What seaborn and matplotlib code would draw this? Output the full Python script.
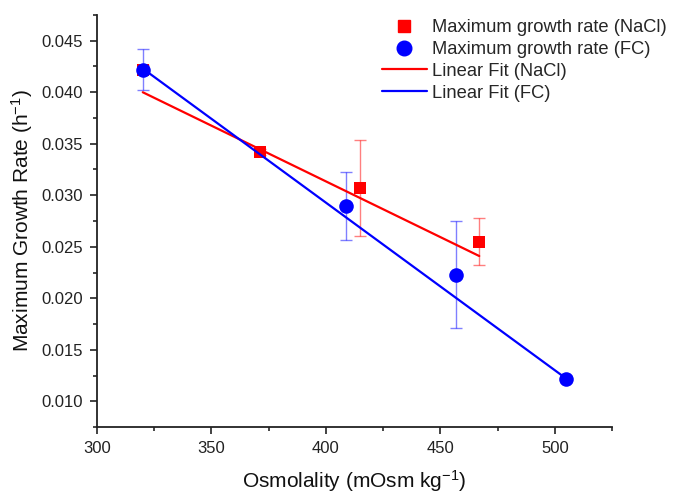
import matplotlib
matplotlib.use("Agg")
import matplotlib.pyplot as plt
from matplotlib.ticker import MultipleLocator, FormatStrFormatter
from matplotlib.lines import Line2D
import seaborn as sns
import pandas as pd

# ---- data ----
nacl_x = [320, 371, 415, 467]
nacl_y = [0.0422, 0.0342, 0.0307, 0.0255]
nacl_err = [0.0004, 0.0003, 0.0047, 0.0023]

fc_x = [320, 409, 457, 505]
fc_y = [0.0422, 0.0290, 0.0223, 0.0122]
fc_err = [0.0020, 0.0033, 0.0052, 0.0002]

# linear fit lines as shown in the reference (end points)
nacl_fit_x = [320, 467]
nacl_fit_y = [0.0400, 0.0241]
fc_fit_x = [320, 505]
fc_fit_y = [0.0423, 0.0122]

labels = ["Maximum growth rate (NaCl)", "Maximum growth rate (FC)",
          "Linear Fit (NaCl)", "Linear Fit (FC)"]
x_label = "Osmolality (mOsm kg$^{-1}$)"
y_label = "Maximum Growth Rate (h$^{-1}$)"

RED = "#ff0000"
BLUE = "#0000ff"

sns.set_theme(style="ticks")
plt.rcParams["font.family"] = ["Liberation Sans", "DejaVu Sans"]
plt.rcParams["mathtext.fontset"] = "custom"
plt.rcParams["mathtext.rm"] = "Liberation Sans"
plt.rcParams["mathtext.it"] = "Liberation Sans"

W, H = 679, 493
fig = plt.figure(figsize=(W / 100, H / 100), dpi=100)
ax = fig.add_axes([97 / W, 1 - 427 / H, (612 - 97) / W, (427 - 15) / H])

# error bars
ax.errorbar(nacl_x, nacl_y, yerr=nacl_err, fmt="none", ecolor=RED, alpha=0.5,
            elinewidth=1, capsize=4, capthick=1, zorder=1)
ax.errorbar(fc_x, fc_y, yerr=fc_err, fmt="none", ecolor=BLUE, alpha=0.5,
            elinewidth=1, capsize=4, capthick=1, zorder=1)

df_nacl = pd.DataFrame({"x": nacl_x, "y": nacl_y})
df_fc = pd.DataFrame({"x": fc_x, "y": fc_y})
sns.scatterplot(data=df_nacl, x="x", y="y", marker="s", s=80, color=RED,
                edgecolor=RED, linewidth=0, ax=ax, zorder=3, legend=False)
sns.scatterplot(data=df_fc, x="x", y="y", marker="o", s=110, color=BLUE,
                edgecolor=BLUE, linewidth=0, ax=ax, zorder=4, legend=False)

df_nfit = pd.DataFrame({"x": nacl_fit_x, "y": nacl_fit_y})
df_ffit = pd.DataFrame({"x": fc_fit_x, "y": fc_fit_y})
sns.lineplot(data=df_nfit, x="x", y="y", color=RED, linewidth=1.6, ax=ax,
             zorder=5, legend=False)
sns.lineplot(data=df_ffit, x="x", y="y", color=BLUE, linewidth=1.6, ax=ax,
             zorder=6, legend=False)

ax.set_xlim(300, 525)
ax.set_ylim(0.0075, 0.0475)
ax.xaxis.set_major_locator(MultipleLocator(50))
ax.xaxis.set_minor_locator(MultipleLocator(25))
ax.yaxis.set_major_locator(MultipleLocator(0.005))
ax.yaxis.set_minor_locator(MultipleLocator(0.0025))
ax.yaxis.set_major_formatter(FormatStrFormatter("%.3f"))

ax.tick_params(axis="both", which="major", direction="out", length=5,
               width=1.2, labelsize=12, colors="#222222", pad=5)
ax.tick_params(axis="both", which="minor", direction="out", length=3, width=1.2)
for s in ["left", "bottom"]:
    ax.spines[s].set_linewidth(1.3)
    ax.spines[s].set_color("#222222")
sns.despine(ax=ax)

ax.set_xlabel(x_label, fontsize=15, labelpad=9, color="#111111")
ax.set_ylabel(y_label, fontsize=15, labelpad=5, color="#111111")

handles = [
    Line2D([], [], marker="s", linestyle="none", color=RED, markersize=9),
    Line2D([], [], marker="o", linestyle="none", color=BLUE, markersize=10.5),
    Line2D([], [], color=RED, linewidth=1.6),
    Line2D([], [], color=BLUE, linewidth=1.6),
]
ax.legend(handles, labels, loc="upper left",
          bbox_to_anchor=(382 / W, 1 - 19 / H), bbox_transform=fig.transFigure,
          frameon=False, fontsize=13.2, handlelength=2.45, handletextpad=0.3,
          labelspacing=0.27, borderpad=0, borderaxespad=0)

fig.savefig("out.png", dpi=100)
